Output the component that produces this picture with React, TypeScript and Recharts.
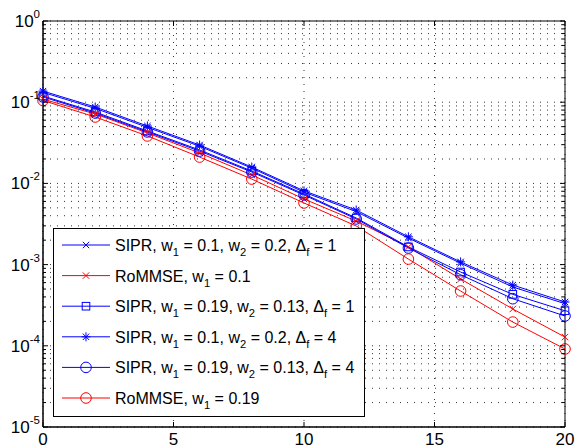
import { LineChart, Line, XAxis, YAxis, CartesianGrid, ReferenceArea, Legend } from 'recharts';

// x axis values (every 2 units)
const xValues = [0, 2, 4, 6, 8, 10, 12, 14, 16, 18, 20];

// series values
const sipr01Df1 = [0.132, 0.084, 0.049, 0.0287, 0.0154, 0.0078, 0.0045, 0.00212, 0.00104, 0.00053, 0.00033];
const rommse01 = [0.109, 0.0716, 0.0418, 0.0237, 0.0127, 0.00643, 0.00344, 0.00165, 0.000665, 0.000284, 0.000128];
const sipr019Df1 = [0.119, 0.0757, 0.0442, 0.0258, 0.0142, 0.0074, 0.00375, 0.00165, 0.00081, 0.00043, 0.00027];
const sipr01Df4 = [0.137, 0.0873, 0.0509, 0.0297, 0.0159, 0.0081, 0.0047, 0.0022, 0.00108, 0.00056, 0.000346];
const sipr019Df4 = [0.116, 0.0735, 0.043, 0.025, 0.0138, 0.0072, 0.00365, 0.0016, 0.00075, 0.00038, 0.000233];
const rommse019 = [0.105, 0.0657, 0.0384, 0.0211, 0.0113, 0.00574, 0.00299, 0.00117, 0.000473, 0.000196, 0.0000914];

const xTicks = [0, 5, 10, 15, 20];
const decadeExponents = [-5, -4, -3, -2, -1, 0];

// legend labels, "_x" means subscript x
const labels = [
    "SIPR, w_1 = 0.1, w_2 = 0.2, Δ_f = 1",
    "RoMMSE, w_1 = 0.1",
    "SIPR, w_1 = 0.19, w_2 = 0.13, Δ_f = 1",
    "SIPR, w_1 = 0.1, w_2 = 0.2, Δ_f = 4",
    "SIPR, w_1 = 0.19, w_2 = 0.13, Δ_f = 4",
    "RoMMSE, w_1 = 0.19",
];

type MarkerType = "x" | "square" | "star" | "circle";

const BLUE = "#0000ff";
const RED = "#ff0000";

const series: Array<{ key: string, values: number[], color: string, marker: MarkerType, label: string }> = [
    { key: "s1", values: sipr01Df1, color: BLUE, marker: "x", label: labels[0] },
    { key: "s2", values: rommse01, color: RED, marker: "x", label: labels[1] },
    { key: "s3", values: sipr019Df1, color: BLUE, marker: "square", label: labels[2] },
    { key: "s4", values: sipr01Df4, color: BLUE, marker: "star", label: labels[3] },
    { key: "s5", values: sipr019Df4, color: BLUE, marker: "circle", label: labels[4] },
    { key: "s6", values: rommse019, color: RED, marker: "circle", label: labels[5] },
];

const rows = xValues.map((x, i) => {
    const row: any = { x };
    series.forEach(s => { row[s.key] = s.values[i]; });
    return row;
});

// y ticks: every decade plus the minor 2..9 steps
const yTicks: number[] = [];
decadeExponents.forEach(e => {
    const base = Math.pow(10, e);
    if (e === 0) { yTicks.push(1); return; }
    for (let k = 1; k <= 9; k++) yTicks.push(Number((base * k).toPrecision(3)));
});

const FONT = '"Liberation Sans", Arial, Helvetica, sans-serif';
const W = 575;
const H = 447;
const MARGIN = { top: 21, right: 10, bottom: 0, left: 0 };
const Y_AXIS_W = 43;
const X_AXIS_H = 20;
const PLOT_LEFT = MARGIN.left + Y_AXIS_W;
const PLOT_RIGHT = W - MARGIN.right;
const PLOT_TOP = MARGIN.top;
const PLOT_BOTTOM = H - MARGIN.bottom - X_AXIS_H;

function Marker({ type, cx, cy, color }: { type: MarkerType, cx: number, cy: number, color: string }) {
    if (type === "x") {
        const d = 3.2;
        return <g stroke={color} strokeWidth={1} fill="none">
            <line x1={cx - d} y1={cy - d} x2={cx + d} y2={cy + d} />
            <line x1={cx - d} y1={cy + d} x2={cx + d} y2={cy - d} />
        </g>;
    }
    if (type === "square") {
        return <rect x={cx - 3.8} y={cy - 3.8} width={7.6} height={7.6} stroke={color} fill="none" strokeWidth={1} />;
    }
    if (type === "star") {
        const d = 4.5;
        const e = 3.2;
        return <g stroke={color} strokeWidth={1} fill="none">
            <line x1={cx - d} y1={cy} x2={cx + d} y2={cy} />
            <line x1={cx} y1={cy - d} x2={cx} y2={cy + d} />
            <line x1={cx - e} y1={cy - e} x2={cx + e} y2={cy + e} />
            <line x1={cx - e} y1={cy + e} x2={cx + e} y2={cy - e} />
        </g>;
    }
    return <circle cx={cx} cy={cy} r={5.3} stroke={color} fill="none" strokeWidth={1} />;
}

// Splits "w_1" style text into tspans with subscripts
function LabelText({ text, x, y, size }: { text: string, x: number, y: number, size: number }) {
    const parts = text.split(/_(\w)/);
    const out: any[] = [];
    let lowered = false;
    parts.forEach((p, i) => {
        if (p === "") return;
        if (i % 2 === 1) {
            out.push(<tspan key={i} fontSize={size * 0.7} dy={lowered ? 0 : 5}>{p}</tspan>);
            lowered = true;
        } else {
            out.push(<tspan key={i} fontSize={size} dy={lowered ? -5 : 0}>{p}</tspan>);
            lowered = false;
        }
    });
    return <text x={x} y={y} fontFamily={FONT} fontSize={size} fill="#000">{out}</text>;
}

function YTick(props: any) {
    const { y, payload } = props;
    const v = payload.value;
    const exp = Math.round(Math.log10(v));
    const isMajor = Math.abs(v - Math.pow(10, exp)) < 1e-12;
    const len = isMajor ? 5 : 3;
    return <g>
        <line x1={PLOT_LEFT} x2={PLOT_LEFT + len} y1={y} y2={y} stroke="#000" />
        <line x1={PLOT_RIGHT - len} x2={PLOT_RIGHT} y1={y} y2={y} stroke="#000" />
        {isMajor &&
            <text x={PLOT_LEFT - 3} y={y + 6} textAnchor="end" fontFamily={FONT} fontSize={17} fill="#000">
                <tspan>10</tspan>
                <tspan fontSize={11.5} dy={-9}>{exp}</tspan>
            </text>}
    </g>;
}

function XTick(props: any) {
    const { x, payload } = props;
    return <g>
        <line x1={x} x2={x} y1={PLOT_BOTTOM} y2={PLOT_BOTTOM - 5} stroke="#000" />
        <line x1={x} x2={x} y1={PLOT_TOP} y2={PLOT_TOP + 5} stroke="#000" />
        <text x={x} y={PLOT_BOTTOM + 18} textAnchor="middle" fontFamily={FONT} fontSize={17} fill="#000">
            {payload.value}
        </text>
    </g>;
}

const LEG_W = 312;
const LEG_H = 189;

function LegendBox() {
    return <svg width={LEG_W} height={LEG_H} style={{ display: "block" }}>
        <rect x={0.5} y={0.5} width={LEG_W - 1} height={LEG_H - 1} fill="#fff" stroke="#000" />
        {series.map((s, i) => {
            const cy = 17 + i * 30.6;
            return <g key={s.key}>
                <line x1={9} x2={57} y1={cy} y2={cy} stroke={s.color} />
                <Marker type={s.marker} cx={33} cy={cy} color={s.color} />
                <LabelText text={s.label} x={62} y={cy + 6} size={16} />
            </g>;
        })}
    </svg>;
}

export default function App() {
    return <div style={{ position: "absolute", left: 0, top: 0, background: "#fff" }}>
        <LineChart width={W} height={H} data={rows} margin={MARGIN}>
            <CartesianGrid stroke="#333" strokeDasharray="1 6" />
            <XAxis type="number" dataKey="x" domain={[0, 20]} ticks={xTicks} interval={0}
                height={X_AXIS_H} tickSize={0} tickLine={false} axisLine={{ stroke: "#000" }} tick={<XTick />} />
            <YAxis type="number" scale="log" domain={[1e-5, 1]} ticks={yTicks} interval={0}
                width={Y_AXIS_W} tickSize={0} tickMargin={3} tickLine={false} axisLine={{ stroke: "#000" }} tick={<YTick />} />
            <ReferenceArea x1={0} x2={20} y1={1e-5} y2={1} fill="none" stroke="#000" ifOverflow="visible" />
            {series.map(s =>
                <Line key={s.key} dataKey={s.key} stroke={s.color} strokeWidth={1} isAnimationActive={false}
                    dot={(p: any) => <g key={`${s.key}-${p.index}`}><Marker type={s.marker} cx={p.cx} cy={p.cy} color={s.color} /></g>}
                    activeDot={false} />
            )}
            <Legend layout="vertical" align="center" verticalAlign="middle" content={() => <LegendBox />}
                wrapperStyle={{ left: 53, top: 228, width: LEG_W, height: LEG_H }} />
        </LineChart>
    </div>;
}
